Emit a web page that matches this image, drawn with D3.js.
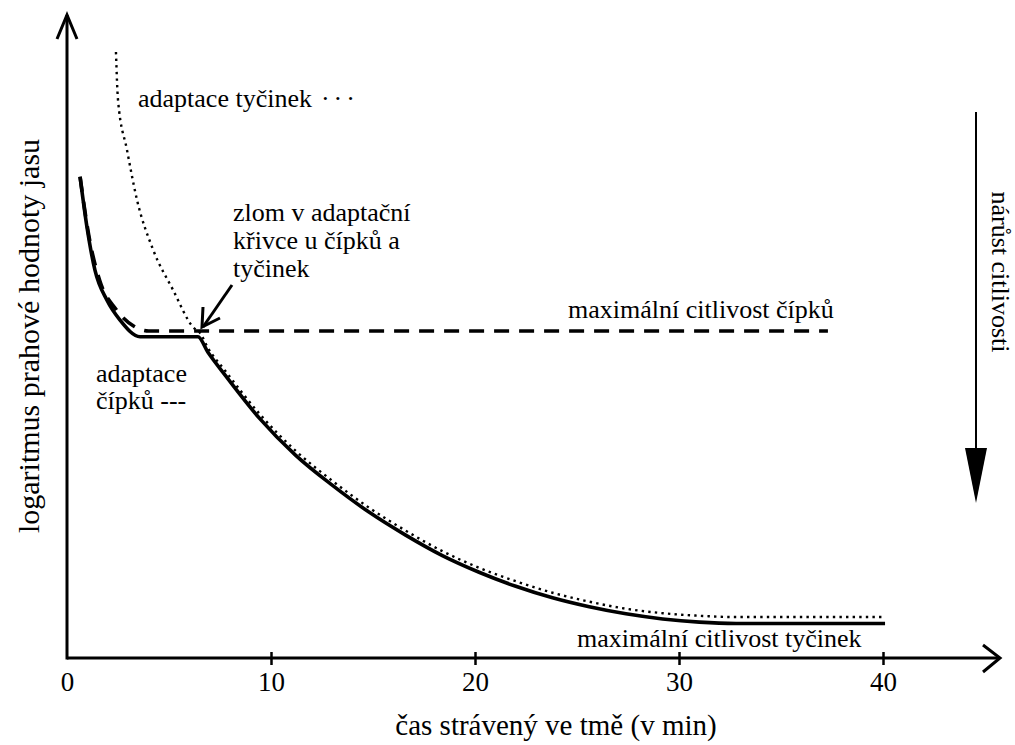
<!DOCTYPE html>
<html>
<head>
<meta charset="utf-8">
<script src="https://cdn.jsdelivr.net/npm/d3@7"></script>
<style>
  html, body { margin: 0; padding: 0; background: #fff; }
  svg text { font-family: "Liberation Serif", "Times New Roman", serif; fill: #000; }
</style>
</head>
<body>
<svg id="chart" width="1015" height="745" font-family="Liberation Serif, Times New Roman, serif"></svg>
<script>
// ---- data (time in minutes, threshold in arbitrary log units) ----
const xTicks = [0, 10, 20, 30, 40];

// solid: overall dark-adaptation curve
const darkTime      = [0.64, 0.98, 1.37, 1.96, 2.60, 3.58, 6.42, 6.90, 7.75, 9.45, 11.2, 13.0, 14.8, 16.6, 18.4, 20.2, 22.0, 23.8, 25.6, 27.4, 29.2, 31.0, 32.8, 40.1];
const darkThreshold = [7.52, 6.73, 6.06, 5.59, 5.28, 5.02, 5.02, 4.78, 4.42, 3.74, 3.17, 2.70, 2.28, 1.92, 1.60, 1.34, 1.12, 0.94, 0.80, 0.69, 0.61, 0.56, 0.54, 0.54];

// dashed: cone adaptation
const coneTime      = [0.64, 1.10, 1.60, 2.40, 3.30, 4.00, 37.3];
const coneThreshold = [7.52, 6.55, 5.90, 5.45, 5.18, 5.11, 5.11];

// dotted: rod adaptation
const rodTime      = [2.40, 2.50, 2.94, 3.43, 4.22, 5.20, 6.18, 6.52, 6.90, 7.75, 9.45, 11.2, 13.0, 14.8, 16.6, 18.4, 20.2, 22.0, 23.8, 25.6, 27.4, 29.2, 31.0, 32.8, 40.1];
const rodThreshold = [9.47, 8.72, 7.94, 7.16, 6.38, 5.75, 5.17, 5.08, 4.85, 4.49, 3.81, 3.24, 2.77, 2.35, 1.99, 1.67, 1.41, 1.20, 1.02, 0.88, 0.77, 0.70, 0.66, 0.64, 0.64];

// ---- drawing ----
const svg = d3.select("#chart");
const x = d3.scaleLinear().domain([0, 40]).range([67, 883]);
const y = d3.scaleLinear().domain([0, 10]).range([658, 18]);
const x0 = x(0), y0 = y(0);

const line = d3.line().x(d => x(d[0])).y(d => y(d[1])).curve(d3.curveMonotoneX);
const zip = (a, b) => a.map((v, i) => [v, b[i]]);

// curves
svg.append("path").datum(zip(darkTime, darkThreshold)).attr("d", line)
  .attr("fill", "none").attr("stroke", "#000").attr("stroke-width", 3.6);
svg.append("path").datum(zip(coneTime, coneThreshold)).attr("d", line)
  .attr("fill", "none").attr("stroke", "#000").attr("stroke-width", 3.6)
  .attr("stroke-dasharray", "15,10");
svg.append("path").datum(zip(rodTime, rodThreshold)).attr("d", line)
  .attr("fill", "none").attr("stroke", "#000").attr("stroke-width", 2.4)
  .attr("stroke-dasharray", "2.4,4.2");

// x axis with ticks
const xAxis = d3.axisBottom(x).tickValues(xTicks).tickFormat(d3.format("d")).tickSize(6);
const gx = svg.append("g").attr("transform", `translate(0,${y0})`).call(xAxis);
gx.attr("font-family", null).attr("font-size", null);
gx.select(".domain").remove();
gx.selectAll(".tick line").attr("y1", -6).attr("y2", 7).attr("stroke", "#000").attr("stroke-width", 2.5)
  .attr("display", d => d === 0 ? "none" : null);
gx.selectAll(".tick text").attr("y", 33).attr("dy", 0).attr("font-size", 27).attr("fill", "#000");

// axis lines + arrows
svg.append("line").attr("x1", x0).attr("y1", y0).attr("x2", 1000).attr("y2", y0)
  .attr("stroke", "#000").attr("stroke-width", 3);
svg.append("path").attr("d", `M983,645 L1000,${y0} L983,672`)
  .attr("fill", "none").attr("stroke", "#000").attr("stroke-width", 3);
svg.append("line").attr("x1", x0).attr("y1", y0 + 1.5).attr("x2", x0).attr("y2", 15)
  .attr("stroke", "#000").attr("stroke-width", 3);
svg.append("path").attr("d", `M${x0 - 10},39 L${x0},15 L${x0 + 10},39`)
  .attr("fill", "none").attr("stroke", "#000").attr("stroke-width", 3);

// axis titles
svg.append("text").attr("x", 556).attr("y", 735).attr("text-anchor", "middle")
  .attr("font-size", 29).text("čas strávený ve tmě (v min)");
svg.append("text").attr("transform", "translate(39,336) rotate(-90)").attr("text-anchor", "middle")
  .attr("font-size", 30).text("logaritmus prahové hodnoty jasu");

// right arrow: increase of sensitivity
svg.append("line").attr("x1", 976).attr("y1", 112).attr("x2", 976).attr("y2", 450)
  .attr("stroke", "#000").attr("stroke-width", 2);
svg.append("path").attr("d", "M965,448 L987,448 L976,503 Z").attr("fill", "#000");
svg.append("text").attr("transform", "translate(992,272) rotate(90)").attr("text-anchor", "middle")
  .attr("font-size", 26).text("nárůst citlivosti");

// annotations
const fs = 26;
const rt = svg.append("text").attr("x", 138).attr("y", 107).attr("font-size", fs);
rt.append("tspan").text("adaptace tyčinek");
rt.append("tspan").attr("dx", 9).attr("letter-spacing", 4).text("···");
const z = svg.append("text").attr("x", 233).attr("y", 221).attr("font-size", fs);
["zlom v adaptační", "křivce u čípků a", "tyčinek"].forEach((t, i) =>
  z.append("tspan").attr("x", 233).attr("dy", i === 0 ? 0 : 28).text(t));
svg.append("path").attr("d", "M232,285 L203,327").attr("stroke", "#000").attr("stroke-width", 3).attr("fill", "none");
svg.append("path").attr("d", "M203,307 L202,327 L220,318").attr("stroke", "#000").attr("stroke-width", 3).attr("fill", "none");
svg.append("text").attr("x", 568).attr("y", 318).attr("font-size", fs).text("maximální citlivost čípků");
const c = svg.append("text").attr("x", 96).attr("y", 382).attr("font-size", fs);
["adaptace", "čípků ---"].forEach((t, i) =>
  c.append("tspan").attr("x", 96).attr("dy", i === 0 ? 0 : 27).text(t));
svg.append("text").attr("x", 577).attr("y", 647).attr("font-size", fs).text("maximální citlivost tyčinek");
</script>
</body>
</html>
